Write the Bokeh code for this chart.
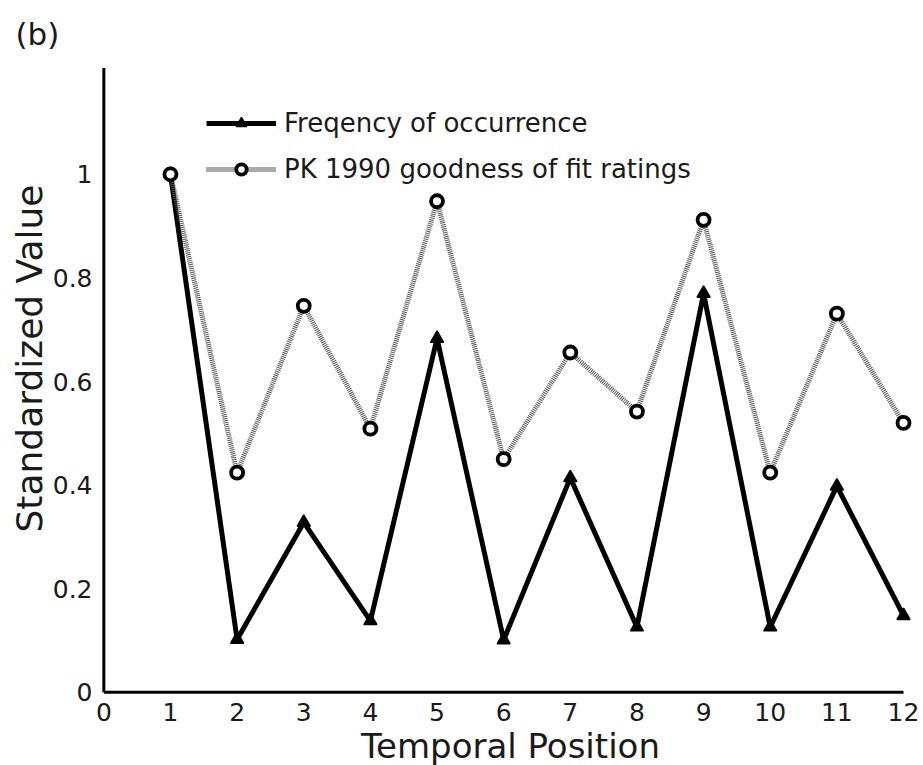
from bokeh.plotting import figure
from bokeh.models import FixedTicker, CustomJSTickFormatter, Range1d, Title
from bokeh.embed import file_html
from bokeh.resources import INLINE

# ---- data ----
positions = [1, 2, 3, 4, 5, 6, 7, 8, 9, 10, 11, 12]
frequency = [1.0, 0.102, 0.328, 0.138, 0.683, 0.101, 0.414, 0.126, 0.770, 0.126, 0.398, 0.148]
pk_ratings = [1.0, 0.424, 0.746, 0.509, 0.948, 0.450, 0.656, 0.542, 0.912, 0.424, 0.731, 0.520]
x_ticks = [0, 1, 2, 3, 4, 5, 6, 7, 8, 9, 10, 11, 12]
y_ticks = [0, 0.2, 0.4, 0.6, 0.8, 1]
freq_label = "Freqency of occurrence"
pk_label = "PK 1990 goodness of fit ratings"
x_title = "Temporal Position"
y_title = "Standardized Value"
panel_tag = "(b)"

FONT = "DejaVu Sans"
TXT = "#1a1a1a"

p = figure(width=923, height=765, output_backend="svg", toolbar_location=None,
           x_range=Range1d(-0.05, 12.255), y_range=Range1d(-0.0042, 1.21),
           min_border_left=100, min_border_right=3, min_border_top=63, min_border_bottom=70)
p.outline_line_color = None
p.grid.grid_line_color = None
p.background_fill_color = "white"
p.border_fill_color = "white"

# panel tag as the title
p.title.text = panel_tag
p.title.align = "left"
p.title.offset = -85
p.title.standoff = 27
p.title.text_font = FONT
p.title.text_font_size = "31px"
p.title.text_font_style = "normal"
p.title.text_color = TXT

for ax in (p.xaxis[0], p.yaxis[0]):
    ax.axis_line_color = None
    ax.major_tick_line_color = None
    ax.minor_tick_line_color = None
    ax.major_label_text_font = FONT
    ax.major_label_text_font_size = "25px"
    ax.major_label_text_color = TXT

p.xaxis.ticker = FixedTicker(ticks=x_ticks)
p.yaxis.ticker = FixedTicker(ticks=y_ticks)
p.yaxis.formatter = CustomJSTickFormatter(code="return tick.toString()")
p.xaxis.major_label_standoff = 2
p.yaxis.major_label_standoff = 2

# axis titles as side-panel titles
p.add_layout(Title(text=x_title, align="center", standoff=0,
                   text_font=FONT, text_font_size="34px", text_font_style="normal",
                   text_color=TXT), "below")
p.add_layout(Title(text=y_title, align="left", offset=162, standoff=0,
                   text_font=FONT, text_font_size="36px", text_font_style="normal",
                   text_color=TXT), "left")

# axis lines
p.segment(x0=[0, 0], y0=[0, 0], x1=[12, 0], y1=[0, 1.205], line_color="black", line_width=3)

# Frequency series
p.line(positions, frequency, line_color="black", line_width=5, legend_label=freq_label)
p.scatter(positions, frequency, marker="triangle", size=13, fill_color="black",
          line_color="black", line_width=1.5, legend_label=freq_label)

# PK 1990 series
p.line(positions, pk_ratings, line_color="#555555", line_width=5, line_dash="1 1",
       legend_label=pk_label)
p.scatter(positions, pk_ratings, marker="circle", size=12, fill_color="white",
          line_color="black", line_width=3.8, legend_label=pk_label)

lg = p.legend[0]
lg.location = (106, 510)
lg.border_line_color = None
lg.background_fill_alpha = 0
lg.padding = 0
lg.margin = 0
lg.spacing = 16
lg.glyph_width = 70
lg.glyph_height = 26
lg.label_height = 26
lg.label_standoff = 8
lg.label_text_font = FONT
lg.label_text_font_size = "26px"
lg.label_text_color = TXT

open("out.html", "w").write(file_html(p, INLINE))
